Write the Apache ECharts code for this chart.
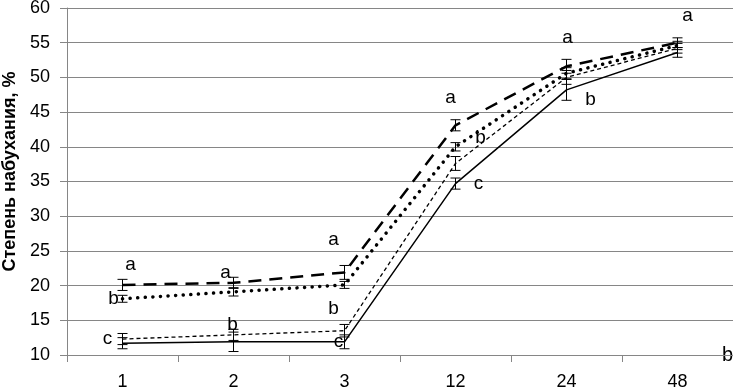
<!DOCTYPE html>
<html>
<head>
<meta charset="utf-8">
<script src="https://cdn.jsdelivr.net/npm/echarts@6/dist/echarts.min.js"></script>
<style>
  html, body { margin: 0; padding: 0; background: #fff; }
  #chart { width: 733px; height: 389px; }
</style>
</head>
<body>
<div id="chart"></div>
<script>
// hours
const categories = ['1', '2', '3', '12', '24', '48'];

// four samples, mean values and errors
const solidVals = [11.7, 11.9, 11.9, 34.7, 48.2, 53.6];
const solidErr = [0.8, 1.4, 1.0, 0.8, 1.5, 0.7];
const thinDashVals = [12.3, 12.9, 13.5, 37.6, 50.0, 54.2];
const thinDashErr = [0.8, 0.8, 0.9, 1.0, 1.0, 0.7];
const dotVals = [18.1, 19.1, 20.1, 40.0, 50.6, 54.6];
const dotErr = [0.5, 0.6, 0.5, 0.6, 0.8, 0.6];
const longDashVals = [20.1, 20.4, 21.9, 43.1, 51.6, 55.0];
const longDashErr = [0.8, 0.8, 1.0, 0.8, 1.0, 0.7];

// significance letters
const solidLetters = ['', '', 'c', 'c', 'b', ''];
const thinDashLetters = ['c', 'b', 'b', '', '', ''];
const dotLetters = ['b', '', '', 'b', '', ''];
const longDashLetters = ['a', 'a', 'a', 'a', 'a', 'a'];

// letter offsets (px) relative to the point
const letterOffsets = {
  solid: [[0, 0], [0, 0], [-6, 0], [23, 0], [24, 10], [0, 0]],
  thin: [[-15, 0], [-1, -10], [-11, -22], [0, 0], [0, 0], [0, 0]],
  dot: [[-9, 0], [0, 0], [0, 0], [25, -9], [0, 0], [0, 0]],
  long: [[8, -20], [-8, -10], [-11, -33], [-5, -28], [1, -29], [10, -27]]
};

const chart = echarts.init(document.getElementById('chart'));
const font = 'Liberation Sans';

function letterSeries(vals, letters, offs) {
  return {
    type: 'scatter',
    symbolSize: 0,
    silent: true,
    z: 6,
    itemStyle: { opacity: 1 },
    data: vals.map((v, i) => ({
      value: [i, v],
      label: {
        show: letters[i] !== '',
        formatter: letters[i],
        position: 'inside',
        offset: offs[i],
        color: '#000',
        fontFamily: font,
        fontSize: 19
      }
    }))
  };
}

function errorSeries(vals, errs) {
  return {
    type: 'custom',
    z: 5,
    silent: true,
    data: vals.map((v, i) => [i, v - errs[i], v + errs[i]]),
    renderItem: function (params, api) {
      const lo = api.coord([api.value(0), api.value(1)]);
      const hi = api.coord([api.value(0), api.value(2)]);
      const w = 5;
      const style = { stroke: '#000', lineWidth: 1 };
      return {
        type: 'group',
        children: [
          { type: 'line', shape: { x1: lo[0], y1: lo[1], x2: hi[0], y2: hi[1] }, style },
          { type: 'line', shape: { x1: lo[0] - w, y1: lo[1], x2: lo[0] + w, y2: lo[1] }, style },
          { type: 'line', shape: { x1: hi[0] - w, y1: hi[1], x2: hi[0] + w, y2: hi[1] }, style }
        ]
      };
    }
  };
}

function lineSeries(vals, lineStyle) {
  return {
    type: 'line',
    data: vals,
    symbol: 'none',
    lineStyle: Object.assign({ color: '#000' }, lineStyle),
    z: 3
  };
}

chart.setOption({
  animation: false,
  grid: { left: 67, right: 0, top: 8, bottom: 34, outerBoundsMode: 'none' },
  xAxis: {
    type: 'category',
    data: categories,
    boundaryGap: true,
    name: 'b',
    nameLocation: 'end',
    nameGap: 0,
    nameTextStyle: { fontFamily: font, fontSize: 20, color: '#000', align: 'right', verticalAlign: 'middle' },
    axisLine: { lineStyle: { color: '#868686', width: 1 } },
    axisTick: { show: true, length: 7, lineStyle: { color: '#868686' } },
    axisLabel: { fontFamily: font, fontSize: 18, color: '#000', margin: 18 },
    splitLine: { show: false }
  },
  yAxis: {
    type: 'value',
    min: 10,
    max: 60,
    interval: 5,
    name: 'Степень набухания, %',
    nameLocation: 'middle',
    nameGap: 48,
    nameRotate: 90,
    nameTextStyle: { fontFamily: font, fontSize: 18, fontWeight: 'bold', color: '#000', padding: [0, 0, 0, 20] },
    axisLine: { show: true, lineStyle: { color: '#868686', width: 1 } },
    axisTick: { show: true, length: 7, lineStyle: { color: '#868686' } },
    axisLabel: { fontFamily: font, fontSize: 18, color: '#000', margin: 17 },
    splitLine: { lineStyle: { color: '#868686', width: 1 } }
  },
  series: [
    lineSeries(solidVals, { width: 1.5, type: 'solid' }),
    lineSeries(thinDashVals, { width: 1.3, type: [4, 3] }),
    lineSeries(dotVals, { width: 3.5, type: [0.1, 7.5], cap: 'round' }),
    lineSeries(longDashVals, { width: 2.5, type: [13, 8] }),
    errorSeries(solidVals, solidErr),
    errorSeries(thinDashVals, thinDashErr),
    errorSeries(dotVals, dotErr),
    errorSeries(longDashVals, longDashErr),
    letterSeries(solidVals, solidLetters, letterOffsets.solid),
    letterSeries(thinDashVals, thinDashLetters, letterOffsets.thin),
    letterSeries(dotVals, dotLetters, letterOffsets.dot),
    letterSeries(longDashVals, longDashLetters, letterOffsets.long)
  ]
});
</script>
</body>
</html>
